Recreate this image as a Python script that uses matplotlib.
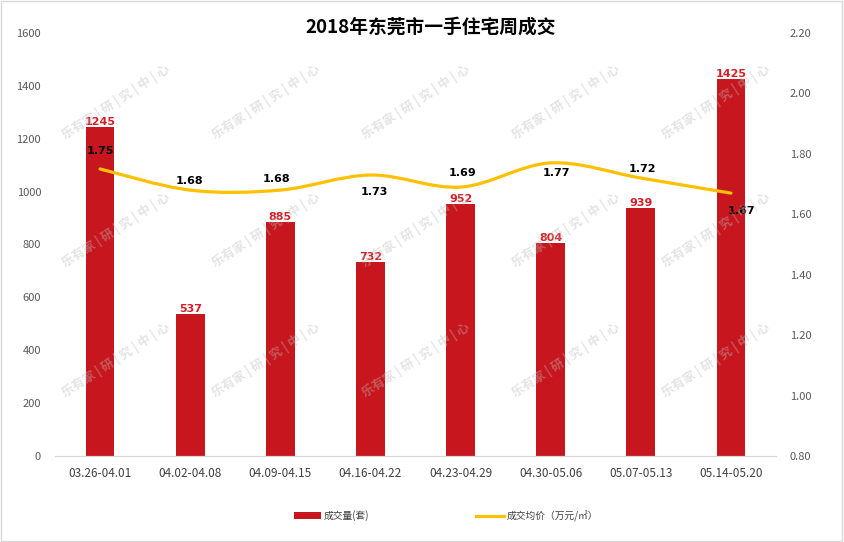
import matplotlib.pyplot as plt
from matplotlib.path import Path
from matplotlib.patches import PathPatch, Patch, Rectangle
from matplotlib.lines import Line2D

plt.rcParams['font.family'] = ['Noto Sans CJK SC', 'DejaVu Sans']

weeks = ['03.26-04.01', '04.02-04.08', '04.09-04.15', '04.16-04.22',
         '04.23-04.29', '04.30-05.06', '05.07-05.13', '05.14-05.20']
volume = [1245, 537, 885, 732, 952, 804, 939, 1425]
price = [1.75, 1.68, 1.68, 1.73, 1.69, 1.77, 1.72, 1.67]

# label offsets for the price labels (pixels: dx, dy)
price_label_offsets = [(0, 18), (-1, 9), (-4, 11), (4, -17),
                       (2, 14), (6, -10), (2, 9), (11, -18)]

BAR_COLOR = '#C8161E'
LINE_COLOR = '#FFC000'
TICK_COLOR = '#595959'


def smooth_path(xs, ys):
    """Excel-style smoothed line as cubic Bezier segments."""
    n = len(xs)
    verts = [(xs[0], ys[0])]
    codes = [Path.MOVETO]
    for i in range(n - 1):
        a = i - 1 if i > 0 else i
        d = i + 2 if i + 2 < n else i + 1
        c1 = (xs[i] + (xs[i + 1] - xs[a]) / 6, ys[i] + (ys[i + 1] - ys[a]) / 6)
        c2 = (xs[i + 1] - (xs[d] - xs[i]) / 6, ys[i + 1] - (ys[d] - ys[i]) / 6)
        verts += [c1, c2, (xs[i + 1], ys[i + 1])]
        codes += [Path.CURVE4] * 3
    return Path(verts, codes)


fig = plt.figure(figsize=(8.44, 5.42), dpi=100)
ax = fig.add_axes([55 / 844, 1 - 456 / 542, 721 / 844, 423 / 542])
ax2 = ax.twinx()

x = list(range(len(weeks)))
ax.bar(x, volume, width=0.32, color=BAR_COLOR, zorder=2)
for xi, v in zip(x, volume):
    ax.annotate(str(v), (xi, v), xytext=(0, 0), textcoords='offset pixels',
                ha='center', va='bottom', fontsize=8, fontweight='bold',
                color='#D42027', family=['DejaVu Sans'])

ax.set_xlim(-0.5, len(weeks) - 0.5)
ax.set_ylim(0, 1600)
ax.set_yticks(range(0, 1601, 200))
ax.set_xticks(x)
ax.set_xticklabels(weeks)

ax2.set_ylim(0.8, 2.2)
ax2.set_yticks([0.8 + 0.2 * k for k in range(8)])
ax2.set_yticklabels([f'{0.8 + 0.2 * k:.2f}' for k in range(8)])

ax2.add_patch(PathPatch(smooth_path(x, price), facecolor='none',
                        edgecolor=LINE_COLOR, lw=2.3, capstyle='round', zorder=3))
for xi, p, (dx, dy) in zip(x, price, price_label_offsets):
    ax2.annotate(f'{p:.2f}', (xi, p), xytext=(dx, dy), textcoords='offset pixels',
                 ha='center', va='center', fontsize=8, fontweight='bold',
                 color='black', family=['DejaVu Sans'])

for a in (ax, ax2):
    for side in ('top', 'left', 'right'):
        a.spines[side].set_visible(False)
    a.spines['bottom'].set_color('#d9d9d9')
    a.tick_params(length=0, labelsize=8, labelcolor=TICK_COLOR)
ax.tick_params(axis='y', pad=10)
ax2.tick_params(axis='y', pad=10)
ax.tick_params(axis='x', pad=8, labelsize=8.5, labelcolor='#404040')

fig.text(0.51, 1 - 27 / 542, '2018年东莞市一手住宅周成交', ha='center', va='center',
         fontsize=13.5, fontweight='bold', color='black')

# watermark
for row_y in (142, 270, 400):
    for col_x in (67, 217, 367, 517, 667):
        fig.text(col_x / 844, 1 - row_y / 542, '乐有家 | 研 | 究 | 中 | 心',
                 rotation=33, rotation_mode='anchor', ha='left', va='bottom',
                 fontsize=9, fontweight='bold', color='#bcbcbc', alpha=0.4,
                 zorder=5)

handles = [Patch(facecolor=BAR_COLOR), Line2D([], [], color=LINE_COLOR, lw=2.3)]
fig.legend(handles, ['成交量(套)', '成交均价（万元/㎡）'], loc='center',
           bbox_to_anchor=(446 / 844, 1 - 516 / 542), ncol=2, frameon=False,
           fontsize=7, handlelength=2.8, handleheight=0.7, columnspacing=11,
           handletextpad=0.3, labelcolor='#404040')

fig.patches.append(Rectangle((0.001, 0.001), 0.997, 0.997, transform=fig.transFigure,
                             fill=False, edgecolor='#d9d9d9', lw=1))

fig.savefig('out.png', dpi=100)
